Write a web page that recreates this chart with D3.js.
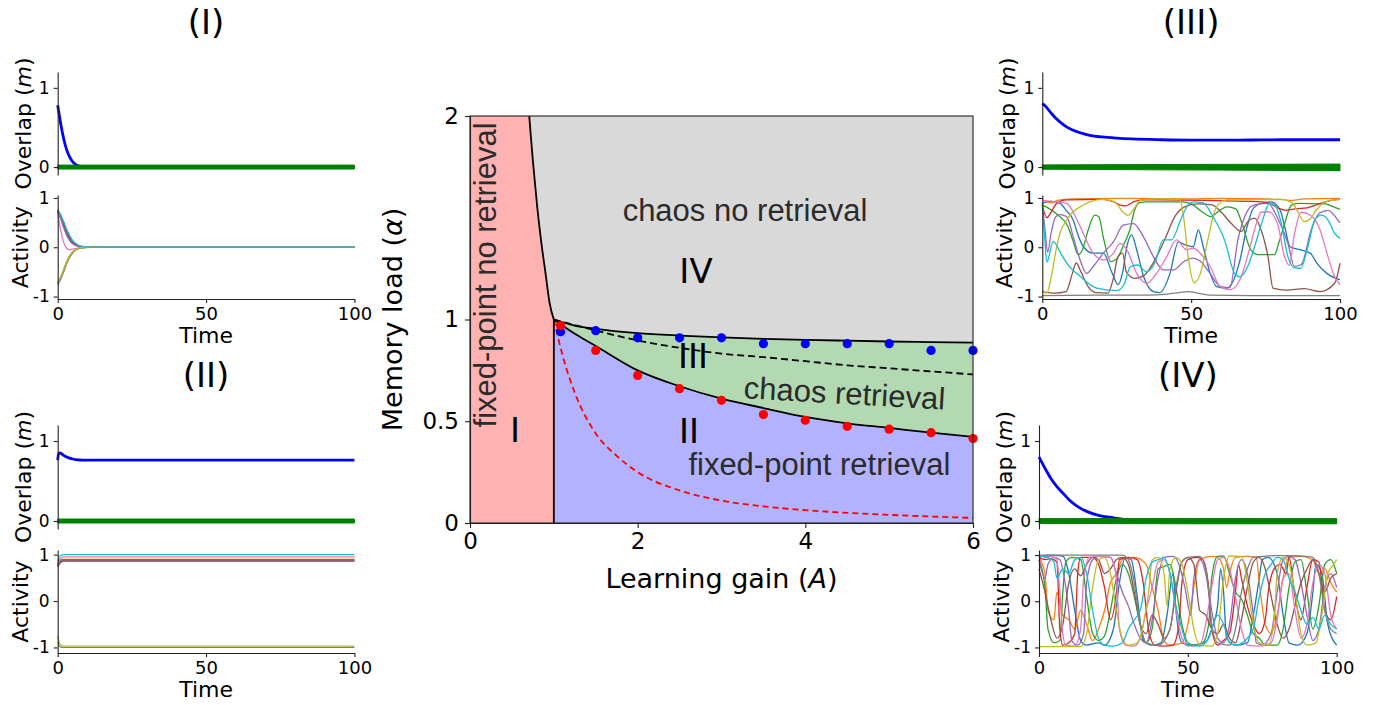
<!DOCTYPE html>
<html lang="en">
<head>
<meta charset="UTF-8">
<title>Phase diagram and dynamics</title>
<script src="https://d3js.org/d3.v7.min.js"></script>
<style>
  body { margin: 0; background: #fff; }
  svg text { font-family: "DejaVu Sans", sans-serif; fill: #000; }
  .note { font-family: "Liberation Sans", Arial, sans-serif; fill: #2b2b2b; }
</style>
</head>
<body>
<script>
// ---------- phase diagram data ----------
// boundary I / IV (fixed point no retrieval vs chaos)
const ivA     = [0.707, 0.72, 0.75, 0.8, 0.85, 0.9, 0.95, 1];
const ivAlpha = [2, 1.93, 1.78, 1.56, 1.38, 1.23, 1.08, 1];

// boundaries for A >= 1, all sampled on the same A grid
const bndA        = [1, 1.25, 1.5, 2, 2.5, 3, 3.5, 4, 4.5, 5, 5.5, 6];
const upperAlpha  = [1, 0.97, 0.954, 0.933, 0.921, 0.912, 0.905, 0.900, 0.896, 0.892, 0.889, 0.886];
const dashedAlpha = [1, 0.973, 0.946, 0.897, 0.861, 0.832, 0.815, 0.795, 0.775, 0.76, 0.745, 0.73];
const lowerAlpha  = [1, 0.93, 0.87, 0.75, 0.672, 0.611, 0.565, 0.521, 0.49, 0.467, 0.444, 0.423];

// red dashed curve
const redDashA     = [1, 1.1, 1.25, 1.5, 1.75, 2, 2.5, 3, 3.5, 4, 4.5, 5, 5.5, 6];
const redDashAlpha = [1, 0.83, 0.64, 0.44, 0.33, 0.25, 0.16, 0.11, 0.082, 0.063, 0.05, 0.04, 0.032, 0.025];

// simulation points
const dotA        = [1.08, 1.5, 2, 2.5, 3, 3.5, 4, 4.5, 5, 5.5, 6];
const blueDotAlpha = [0.94, 0.945, 0.91, 0.91, 0.91, 0.881, 0.881, 0.881, 0.881, 0.848, 0.848];
const redDotAlpha  = [0.97, 0.848, 0.725, 0.66, 0.603, 0.533, 0.505, 0.475, 0.461, 0.444, 0.415];

const notes = [
  { text: "fixed-point no retrieval", A: 0.31, a: 1.219, rot: -90, cls: "note", size: 31 },
  { text: "chaos no retrieval", A: 3.28, a: 1.484, rot: 0, cls: "note", size: 31 },
  { text: "chaos retrieval", A: 4.46, a: 0.585, rot: 3.3, cls: "note", size: 31 },
  { text: "fixed-point retrieval", A: 4.167, a: 0.236, rot: 0, cls: "note", size: 31 },
  { text: "I", A: 0.537, a: 0.398, rot: 0, cls: "roman", size: 34 },
  { text: "II", A: 2.612, a: 0.393, rot: 0, cls: "roman", size: 34 },
  { text: "III", A: 2.66, a: 0.762, rot: 0, cls: "roman", size: 34 },
  { text: "IV", A: 2.696, a: 1.179, rot: 0, cls: "roman", size: 34 }
];

// ---------- panel (I): decay to zero ----------
const p1OvT    = [0, 1, 2, 3, 4, 5, 6, 7, 8, 10, 12, 100];
const p1OvBlue = [0.78, 0.55, 0.36, 0.22, 0.13, 0.07, 0.035, 0.015, 0.005, 0, 0, 0];
const p1ActT   = [0, 1, 2, 3, 4, 5, 6, 7, 8, 10, 12, 15, 100];
const p1Act = [
  [0.76, 0.62, 0.45, 0.3, 0.18, 0.1, 0.05, 0.025, 0.01, 0, 0, 0, 0],
  [0.75, 0.65, 0.5, 0.35, 0.22, 0.13, 0.07, 0.04, 0.02, 0.005, 0, 0, 0],
  [0.74, 0.6, 0.42, 0.26, 0.15, 0.08, 0.04, 0.02, 0.01, 0, 0, 0, 0],
  [0.73, 0.64, 0.48, 0.32, 0.2, 0.11, 0.06, 0.03, 0.015, 0, 0, 0, 0],
  [0.72, 0.58, 0.4, 0.25, 0.14, 0.07, 0.035, 0.015, 0.005, 0, 0, 0, 0],
  [-0.74, -0.62, -0.46, -0.3, -0.18, -0.1, -0.05, -0.025, -0.01, 0, 0, 0, 0],
  [0.7, 0.35, 0.1, -0.02, -0.05, -0.04, -0.03, -0.02, -0.01, 0, 0, 0, 0],
  [-0.76, -0.65, -0.5, -0.34, -0.21, -0.12, -0.06, -0.03, -0.015, 0, 0, 0, 0],
  [-0.72, -0.6, -0.45, -0.3, -0.18, -0.1, -0.05, -0.02, -0.01, 0, 0, 0, 0],
  [0.77, 0.66, 0.52, 0.37, 0.24, 0.14, 0.08, 0.04, 0.02, 0.005, 0, 0, 0]
];
const p1BandT = [0, 100], p1BandLo = [-0.025, -0.025], p1BandHi = [0.025, 0.025];

// ---------- panel (II): fixed point retrieval ----------
const p2OvT    = [0, 0.3, 0.8, 2, 3, 4, 5, 6, 8, 10, 100];
const p2OvBlue = [0.76, 0.84, 0.85, 0.82, 0.8, 0.785, 0.775, 0.768, 0.762, 0.76, 0.76];
const p2ActT   = [0, 0.5, 1, 1.5, 2, 3, 5, 100];
const p2Act = [
  [0.78, 0.84, 0.87, 0.88, 0.88, 0.88, 0.88, 0.88],
  [0.76, 0.83, 0.88, 0.9, 0.9, 0.9, 0.9, 0.9],
  [0.8, 0.86, 0.88, 0.89, 0.89, 0.89, 0.89, 0.89],
  [0.75, 0.8, 0.84, 0.86, 0.87, 0.87, 0.87, 0.87],
  [0.77, 0.82, 0.85, 0.87, 0.87, 0.87, 0.87, 0.87],
  [0.74, 0.8, 0.83, 0.85, 0.86, 0.86, 0.86, 0.86],
  [0.8, 0.88, 0.92, 0.94, 0.95, 0.95, 0.95, 0.95],
  [-0.88, -0.96, -0.99, -1, -1, -1, -1, -1],
  [-0.75, -0.88, -0.94, -0.96, -0.97, -0.97, -0.97, -0.97],
  [0.86, 0.95, 0.98, 0.99, 1, 1, 1, 1]
];
const p2BandT = [0, 100], p2BandLo = [-0.025, -0.025], p2BandHi = [0.025, 0.025];

// ---------- panel (III): chaotic retrieval ----------
const p3OvT    = [0, 1, 3, 5, 8, 10, 13, 16, 20, 25, 30, 40, 50, 60, 70, 80, 90, 100];
const p3OvBlue = [0.8, 0.77, 0.68, 0.6, 0.51, 0.47, 0.43, 0.4, 0.38, 0.365, 0.355, 0.345, 0.34, 0.34, 0.342, 0.345, 0.345, 0.345];
const p3Blue = [[0,0.89],[3,0.93],[6,0.89],[8,0.75],[10.4,0.55],[12,0.25],[13.8,0.01],[17,-0.12],[20.5,-0.12],[23.3,-0.5],[25.5,-0.76],[27,-0.5],[28.4,0.01],[30,0.25],[31.7,-0.05],[34,-0.59],[37.3,-0.9],[39.5,-0.92],[42.9,-0.53],[45.7,0.11],[48,0.05],[50.7,0.01],[52.4,0.35],[54.1,0],[56.4,-0.53],[58.6,-0.8],[62,-0.83],[64,-0.7],[66.4,-0.26],[68.7,0.4],[71,0.8],[74,0.9],[77,0.92],[79.9,0.75],[81.5,0.4],[83.2,0.01],[86.6,-0.05],[90,-0.12],[92.2,-0.32],[95.6,-0.53],[100,-0.66]];
const p3Orange = [[0,0.97],[1.5,0.92],[3,0.9],[5,0.95],[10,0.98],[30,0.99],[50,0.98],[60,0.99],[75,0.98],[80,0.97],[84,0.95],[88,0.98],[100,0.99]];
const p3Green = [[0,0.86],[5.3,0.65],[8.6,0.42],[10.5,0.1],[12,-0.15],[13.5,-0.05],[15.4,0.35],[17.6,0.65],[19,0.62],[20.5,0.2],[23,-0.29],[24.8,-0.25],[27.7,0.1],[29.4,0.35],[31,0.75],[32.5,0.9],[35,0.92],[47,0.92],[50,0.88],[53,0.75],[56.7,0.62],[59,0.72],[62,0.82],[65,0.78],[67,0.5],[70,-0.05],[72.4,-0.15],[78,-0.15],[79.5,0.1],[81.4,0.48],[83.6,0.85],[86,0.89],[95,0.88],[97,0.84],[100,0.77]];
const p3Red = [[0,0.85],[1.5,0.6],[3,0.72],[5,0.9],[8,0.96],[20,0.97],[24,0.92],[26,0.86],[28,0.84],[31,0.93],[35,0.96],[55,0.95],[70,0.93],[76,0.9],[79,0.8],[82,0.75],[85,0.78],[89,0.8],[93,0.88],[97,0.95],[100,0.97]];
const p3Purple = [[0,0.85],[1,0.3],[1.8,-0.1],[3,0.3],[4.5,0.62],[6,0.66],[8.2,0.62],[10.4,0.21],[12.7,-0.26],[14.9,-0.53],[17.1,-0.39],[20.5,-0.12],[23.9,0.11],[27.2,0.45],[30.6,0.48],[34,0.21],[37.3,-0.19],[40.7,-0.46],[44.1,-0.46],[47.4,-0.3],[50.5,-0.22],[53,-0.28],[56,-0.5],[60,-0.8],[63,-0.82],[65.7,0.15],[68,0.62],[70,0.82],[73,0.88],[75.8,0.89],[79,0.6],[82.5,0.08],[84.7,-0.39],[87,-0.35],[90.3,0.35],[93,0.69],[96,0.75],[99.3,0.55],[100,0.5]];
const p3Brown = [[0,-0.9],[4,-0.93],[8,-0.9],[10,-0.55],[11.4,-0.32],[13,-0.5],[15.4,-0.8],[18,-0.92],[22,-0.93],[24,-0.6],[25.4,-0.19],[27,-0.12],[28.2,-0.5],[31,-0.63],[34,-0.58],[37.8,-0.26],[41.1,0.15],[44.5,0.62],[47.8,0.82],[52,0.88],[57,0.86],[60,0.72],[63.5,0.48],[66.8,0.32],[69,0.52],[71.3,0.59],[73.5,0.35],[75.8,-0.19],[77.5,-0.83],[82,-0.87],[88,-0.84],[93.3,-0.9],[98.2,-0.73],[100,-0.32]];
const p3Pink = [[0,0.95],[4.8,0.92],[8.2,0.89],[10.5,0.7],[12.7,0.42],[17.1,-0.12],[20.5,-0.26],[23.9,-0.12],[26.1,0.08],[28.4,-0.05],[31.7,-0.53],[35.1,-0.73],[38.4,-0.53],[41.8,-0.19],[45.1,0.15],[48.5,-0.05],[50.7,-0.02],[53,-0.12],[56.4,-0.39],[59.8,-0.8],[63.2,-0.86],[66.4,-0.66],[69.8,0.01],[72,0.5],[73.5,0.71],[76,0.72],[79,0.48],[81.4,-0.2],[83,-0.37],[84.7,0.27],[87,0.71],[90,0.65],[93,0.4],[96,-0.2],[98.2,-0.6],[100,-0.76]];
const p3Grey = [[0,-0.98],[20,-0.97],[35,-0.97],[42,-0.95],[46,-0.92],[49,-0.9],[52,-0.93],[56,-0.97],[70,-0.98],[100,-0.98]];
const p3Olive = [[0,-0.9],[1.5,-0.93],[3,-0.6],[4.8,0],[6,0.3],[8.2,0.55],[10,0.7],[12.7,0.82],[16,0.92],[20,0.97],[23,0.95],[25,0.88],[27,0.72],[28.8,0.65],[31,0.8],[33,0.95],[40,0.98],[46,0.97],[47.5,0.6],[49,-0.2],[51,-0.72],[53,-0.55],[55.6,0.15],[58,0.75],[59.5,0.89],[62,0.96],[80,0.97],[84,0.9],[86,0.7],[88,0.52],[90,0.58],[92,0.75],[95,0.92],[100,0.97]];
const p3Cyan = [[0,0.92],[0.8,0.2],[1.5,-0.3],[3.7,0.12],[6,-0.1],[8.2,-0.32],[12.7,-0.59],[18.3,-0.83],[25,-0.88],[27.5,-0.75],[29.5,-0.4],[32,-0.36],[35,-0.5],[37.8,-0.32],[40.6,0.15],[43.4,0.15],[46.7,0.59],[49,0.86],[51,0.92],[54,0.9],[57.3,0.62],[61.2,0.15],[64.6,-0.53],[66.3,-0.6],[69,-0.39],[71.3,0.01],[74,0.55],[76.3,0.89],[78,0.87],[80.3,0.48],[82.5,-0.19],[84.7,-0.42],[86.8,-0.43],[89.2,0.01],[91.5,0.55],[93.7,0.65],[96,0.55],[98.2,0.28],[100,0.18]];
const p3BandT  = [0, 20, 40, 60, 80, 100];
const p3BandLo = [-0.027, -0.03, -0.035, -0.038, -0.042, -0.046];
const p3BandHi = [0.027, 0.03, 0.032, 0.034, 0.036, 0.038];

// ---------- panel (IV): chaos, no retrieval ----------
const p4OvT    = [0, 2, 4, 6, 8, 10, 13, 16, 20, 25, 30, 40, 100];
const p4OvBlue = [0.8, 0.66, 0.53, 0.43, 0.35, 0.27, 0.18, 0.12, 0.07, 0.04, 0.015, 0, 0];
const p4Blue = [[0,0.95],[3,1],[8,0.98],[10,0.6],[12,-0.2],[14,-0.85],[16,-0.95],[20,-0.9],[22,-0.95],[25,-0.6],[27,0.4],[29,0.95],[31,0.9],[33,0.1],[35,-0.85],[38,-0.95],[41,-0.9],[43,-0.3],[45,0.6],[46,-0.2],[48,-0.9],[52,-0.95],[56,-0.88],[58,-0.6],[60,-0.1],[61,0.7],[62,0.2],[63,-0.8],[66,-0.95],[70,-0.9],[72,-0.3],[74,0.5],[75,0.9],[77,0.95],[80,0.6],[82,-0.3],[84,-0.9],[87,-0.95],[90,-0.7],[92,0.2],[93,0.8],[95,0.6],[97,-0.5],[100,-0.95]];
const p4Orange = [[0,0.95],[2,0.6],[3,-0.2],[5,-0.4],[6,0.2],[8,-0.3],[10,-0.4],[12,-0.6],[14,-0.2],[16,-0.5],[18,-0.85],[20,-0.6],[22,-0.2],[24,0.4],[26,0.6],[28,0.9],[32,0.95],[36,0.8],[38,0.3],[40,-0.2],[42,-0.85],[44,-0.95],[48,-0.9],[50,-0.5],[52,0.3],[54,0.9],[58,0.97],[60,0.95],[62,0.7],[63,0.3],[64,0.6],[66,0.95],[70,0.97],[73,0.95],[74,0.4],[76,-0.5],[78,-0.7],[80,-0.3],[82,0.5],[84,0.95],[88,0.97],[92,0.9],[94,0.6],[96,0.7],[98,0.4],[100,0.2]];
const p4Green = [[0,0.9],[2,0.3],[3,-0.6],[5,-0.9],[7,-0.85],[8,0.2],[9,0.85],[11,0.95],[14,0.9],[16,0.1],[18,-0.7],[20,-0.85],[22,-0.75],[24,-0.2],[26,0.5],[28,0.8],[30,0.6],[32,0.1],[34,-0.5],[36,-0.9],[38,-0.6],[40,0.7],[42,0.75],[44,0.8],[46,0.3],[48,-0.5],[50,-0.9],[52,-0.95],[55,-0.9],[57,-0.5],[58,0.5],[60,0.97],[62,0.98],[64,0.6],[66,0.2],[68,0.05],[70,-0.3],[72,-0.7],[74,-0.8],[76,-0.95],[80,-0.95],[82,-0.6],[84,0.3],[86,0.85],[88,0.9],[90,0.2],[92,-0.6],[94,-0.1],[96,0.8],[98,0.9],[100,0.6]];
const p4Red = [[0,0.95],[2,0.9],[4,0.92],[6,0.85],[7,-0.6],[8,-0.95],[10,-0.9],[12,-0.7],[13,0.6],[14,0.95],[18,0.95],[20,0.8],[22,0.3],[24,-0.4],[26,0.2],[27,0.9],[30,0.95],[33,0.9],[35,0.4],[37,-0.7],[39,-0.95],[42,-0.97],[45,-0.95],[47,-0.5],[48,0.4],[50,0.9],[53,0.95],[55,0.9],[57,0.3],[58,-0.6],[60,-0.95],[62,-0.85],[64,-0.7],[66,0.2],[67,0.8],[68,0.5],[70,-0.1],[72,-0.5],[74,-0.7],[76,-0.4],[77,0.2],[79,0.7],[81,0.8],[83,0.6],[84,0.95],[86,0.1],[88,-0.4],[90,0.3],[92,0.9],[94,0.85],[96,-0.2],[98,-0.4],[100,0.1]];
const p4Purple = [[0,0.9],[2,0.5],[3,0.8],[5,0.95],[7,0.9],[9,0.3],[10,-0.2],[11,-0.85],[13,-0.95],[15,-0.7],[16,0.4],[18,0.9],[20,0.97],[24,0.95],[26,0.6],[28,0.2],[30,-0.1],[32,-0.5],[34,-0.8],[36,-0.9],[38,-0.4],[40,0.5],[42,0.95],[45,0.97],[47,0.8],[49,0.3],[51,-0.3],[52,0.5],[54,0.9],[56,0.6],[58,-0.2],[60,-0.8],[62,-0.9],[64,-0.5],[66,0.5],[68,0.9],[70,0.6],[72,-0.3],[73,-0.9],[75,-0.95],[78,-0.7],[80,0.2],[82,0.9],[84,0.97],[86,0.9],[88,0.4],[90,-0.3],[92,-0.85],[94,-0.6],[96,0.3],[98,0.6],[100,0.3]];
const p4Brown = [[0,0.7],[2,0.2],[4,-0.4],[6,-0.8],[8,-0.5],[10,0.4],[12,0.7],[14,0.55],[16,0.8],[18,0.95],[20,0.9],[22,0.6],[24,0.7],[26,0.9],[28,0.95],[30,0.8],[32,0.2],[34,-0.5],[36,-0.7],[38,-0.3],[40,-0.5],[42,-0.8],[44,-0.6],[46,0.2],[48,0.85],[50,0.95],[52,0.8],[54,-0.2],[56,-0.3],[58,-0.6],[60,-0.7],[62,-0.5],[64,-0.8],[66,-0.9],[68,-0.4],[70,0.3],[72,0.85],[74,0.95],[76,0.7],[78,0.1],[80,-0.5],[82,-0.8],[84,-0.6],[86,-0.1],[88,0.4],[90,0.7],[92,0.9],[94,0.6],[96,0.2],[98,0.5],[100,0.6]];
const p4Pink = [[0,0.8],[2,0.95],[4,0.97],[6,0.9],[7,0.2],[8,-0.7],[9,-0.95],[12,-0.97],[14,-0.6],[15,0.5],[17,0.95],[20,0.97],[24,0.95],[26,0.5],[27,-0.6],[29,-0.95],[32,-0.97],[34,-0.8],[36,-0.2],[38,0.3],[40,0.85],[42,0.9],[44,0.6],[46,-0.2],[48,-0.8],[50,-0.97],[54,-0.95],[56,-0.5],[58,0.3],[60,0.9],[62,0.95],[64,0.7],[66,0.1],[68,-0.6],[70,-0.95],[74,-0.97],[78,-0.9],[80,-0.4],[82,0.5],[84,0.6],[86,-0.2],[88,-0.8],[90,-0.5],[92,0.4],[94,0.8],[96,0.6],[98,-0.3],[100,-0.6]];
const p4Grey = [[0,1],[28,1],[30,0.9],[32,0.4],[34,-0.5],[36,-0.9],[40,-0.95],[44,-0.6],[46,0.3],[48,0.85],[50,0.95],[54,0.97],[56,0.7],[57,0.2],[58,-0.5],[60,-0.9],[64,-0.95],[66,-0.6],[68,0.2],[70,0.7],[72,0.95],[75,0.97],[80,0.99],[85,0.99],[88,0.98],[92,0.95],[94,0.6],[96,-0.2],[98,-0.6],[100,-0.7]];
const p4Olive = [[0,-0.98],[14,-0.98],[16,-0.7],[18,0.3],[20,0.9],[22,0.95],[24,0.6],[26,-0.2],[28,-0.8],[30,-0.95],[33,-0.9],[35,-0.5],[37,0.3],[38,0.9],[40,0.95],[42,0.6],[43,-0.1],[44,0.7],[46,0.95],[48,0.8],[50,0.2],[52,-0.6],[54,-0.95],[58,-0.97],[60,-0.7],[62,0.5],[64,0.98],[68,0.97],[70,0.4],[72,-0.5],[74,-0.9],[77,-0.95],[79,-0.4],[80,0.6],[82,0.95],[84,0.8],[86,0.2],[88,-0.7],[90,-0.95],[93,-0.9],[95,-0.3],[97,0.6],[99,0.8],[100,0.9]];
const p4Cyan = [[0,0.98],[3,0.95],[5,0.85],[6,0.5],[8,0.7],[10,0.6],[12,0.9],[14,0.95],[16,0.6],[18,-0.2],[20,-0.8],[22,-0.95],[25,-0.97],[28,-0.9],[30,-0.6],[32,-0.4],[34,-0.2],[36,0.5],[38,0.85],[40,0.9],[42,0.95],[44,0.6],[46,-0.1],[48,-0.6],[50,-0.95],[54,-0.97],[57,-0.8],[60,-0.3],[62,-0.5],[64,-0.9],[66,-0.95],[70,-0.8],[72,-0.6],[74,0.1],[76,0.6],[78,0.8],[80,0.95],[82,0.9],[84,0.5],[86,0.2],[88,-0.2],[90,-0.5],[92,-0.35],[94,-0.6],[96,-0.3],[98,-0.5],[100,-0.6]];
const p4BandT  = [0, 25, 50, 75, 100];
const p4BandLo = [-0.03, -0.032, -0.035, -0.035, -0.035];
const p4BandHi = [0.03, 0.03, 0.032, 0.03, 0.03];

const timeTicks = [0, 50, 100];
const tab10 = d3.schemeCategory10;

// ---------- drawing ----------
const svg = d3.select("body").append("svg")
    .attr("width", 1380).attr("height", 705);

const zip = (xs, ys) => xs.map((x, i) => [x, ys[i]]);

function styleAxis(g, size) {
    g.attr("font-size", size).attr("font-family", "DejaVu Sans, sans-serif");
    g.selectAll(".domain").attr("stroke", "#222").attr("stroke-width", 1.1);
    g.selectAll(".tick line").attr("stroke", "#222").attr("stroke-width", 1.1);
    g.selectAll(".tick text").attr("fill", "#000");
}

function smallPanel(p) {
    const g = svg.append("g");
    const x = d3.scaleLinear().domain([0, 100]).range([p.x0, p.x1]);
    const yo = d3.scaleLinear().domain([-0.1, 1.2]).range([p.ovBot, p.ovTop]);
    const ya = d3.scaleLinear().domain(p.actDom).range([p.acBot, p.acTop]);

    g.append("text").attr("x", (p.x0 + p.x1) / 2).attr("y", p.ovTop - 38)
        .attr("text-anchor", "middle").attr("font-size", 34).text(p.title);

    // overlap
    g.append("path")
        .attr("d", d3.line().x(d => x(d[0])).y(d => yo(d[1])).curve(d3.curveMonotoneX)(zip(p.ovT, p.ovBlue)))
        .attr("fill", "none").attr("stroke", "#0000ff").attr("stroke-width", 2.8);
    g.append("path")
        .attr("d", d3.area().x(d => x(d[0])).y0(d => yo(d[1])).y1(d => yo(d[2]))
            (p.bandT.map((t, i) => [t, p.bandLo[i], p.bandHi[i]])))
        .attr("fill", "#008000").attr("stroke", "#008000").attr("stroke-width", 1);

    const ay = g.append("g").attr("transform", `translate(${p.x0},0)`)
        .call(d3.axisLeft(yo).tickValues([0, 1]).tickFormat(d => String(d)).tickSize(4).tickPadding(4).tickSizeOuter(0));
    styleAxis(ay, 17);

    const ol = g.append("text")
        .attr("transform", `translate(${p.x0 - 27},${(p.ovTop + p.ovBot) / 2}) rotate(-90)`)
        .attr("text-anchor", "middle").attr("font-size", 22);
    ol.append("tspan").text("Overlap (");
    ol.append("tspan").attr("font-style", "italic").text("m");
    ol.append("tspan").text(")");

    // activity
    const line = d3.line().x(d => x(d[0])).y(d => ya(d[1])).curve(d3.curveMonotoneX);
    p.act.forEach((s, i) => {
        g.append("path").attr("d", line(s))
            .attr("fill", "none").attr("stroke", tab10[i]).attr("stroke-width", 1.3);
    });

    const ay2 = g.append("g").attr("transform", `translate(${p.x0},0)`)
        .call(d3.axisLeft(ya).tickValues([-1, 0, 1]).tickFormat(d => String(d)).tickSize(4).tickPadding(4).tickSizeOuter(0));
    styleAxis(ay2, 17);
    const ax = g.append("g").attr("transform", `translate(0,${p.acBot})`)
        .call(d3.axisBottom(x).tickValues(timeTicks).tickSize(4).tickPadding(4).tickSizeOuter(0));
    styleAxis(ax, 18);

    g.append("text")
        .attr("transform", `translate(${p.x0 - 30},${(p.acTop + p.acBot) / 2}) rotate(-90)`)
        .attr("text-anchor", "middle").attr("font-size", 22).text("Activity");
    g.append("text").attr("x", (p.x0 + p.x1) / 2).attr("y", p.acBot + 44)
        .attr("text-anchor", "middle").attr("font-size", 22).text("Time");
}

const rowTop = { ovTop: 72, ovBot: 175, acTop: 195, acBot: 299 };
const rowBot = { ovTop: 425, ovBot: 529, acTop: 550, acBot: 653 };

smallPanel(Object.assign({ title: "(I)", x0: 57.7, x1: 354.4, actDom: [-1.05, 1.06],
    ovT: p1OvT, ovBlue: p1OvBlue, bandT: p1BandT, bandLo: p1BandLo, bandHi: p1BandHi,
    act: p1Act.map(v => zip(p1ActT, v)) }, rowTop));
smallPanel(Object.assign({ title: "(II)", x0: 57.7, x1: 354.4, actDom: [-1.12, 1.1],
    ovT: p2OvT, ovBlue: p2OvBlue, bandT: p2BandT, bandLo: p2BandLo, bandHi: p2BandHi,
    act: p2Act.map(v => zip(p2ActT, v)) }, rowBot));
smallPanel(Object.assign({ title: "(III)", x0: 1042.3, x1: 1340, actDom: [-1.05, 1.06],
    ovT: p3OvT, ovBlue: p3OvBlue, bandT: p3BandT, bandLo: p3BandLo, bandHi: p3BandHi,
    act: [p3Blue, p3Orange, p3Green, p3Red, p3Purple, p3Brown, p3Pink, p3Grey, p3Olive, p3Cyan] }, rowTop));
smallPanel(Object.assign({ title: "(IV)", x0: 1039, x1: 1336.7, actDom: [-1.12, 1.11],
    ovT: p4OvT, ovBlue: p4OvBlue, bandT: p4BandT, bandLo: p4BandLo, bandHi: p4BandHi,
    act: [p4Blue, p4Orange, p4Green, p4Red, p4Purple, p4Brown, p4Pink, p4Grey, p4Olive, p4Cyan] }, rowBot));

// ---------- central phase diagram ----------
const cx = d3.scaleLinear().domain([0, 6]).range([470, 973]);
const cy = d3.scaleLinear().domain([0, 2]).range([523, 116]);
const pg = svg.append("g");

const area = d3.area().x(d => cx(d[0])).y0(d => cy(d[1])).y1(d => cy(d[2])).curve(d3.curveMonotoneX);
const curve = d3.line().x(d => cx(d[0])).y(d => cy(d[1])).curve(d3.curveMonotoneX);

// region I
pg.append("rect").attr("x", cx(0)).attr("y", cy(2))
    .attr("width", cx(1) - cx(0)).attr("height", cy(0) - cy(2)).attr("fill", "#ffb2b2");
// region IV
pg.append("path").attr("d", area(ivA.map((a, i) => [a, ivAlpha[i], 2]))).attr("fill", "#d9d9d9");
pg.append("path").attr("d", area(bndA.map((a, i) => [a, upperAlpha[i], 2]))).attr("fill", "#d9d9d9");
// region III
pg.append("path").attr("d", area(bndA.map((a, i) => [a, lowerAlpha[i], upperAlpha[i]]))).attr("fill", "#b2d9b2");
// region II
pg.append("path").attr("d", area(bndA.map((a, i) => [a, 0, lowerAlpha[i]]))).attr("fill", "#b2b2ff");

// boundaries
pg.append("path").attr("d", curve(zip(redDashA, redDashAlpha)))
    .attr("fill", "none").attr("stroke", "#ff0000").attr("stroke-width", 1.8).attr("stroke-dasharray", "6,4");
pg.append("path").attr("d", curve(zip(bndA, dashedAlpha)))
    .attr("fill", "none").attr("stroke", "#000").attr("stroke-width", 1.8).attr("stroke-dasharray", "7,4");
[zip(ivA, ivAlpha), zip(bndA, upperAlpha), zip(bndA, lowerAlpha)].forEach(s => {
    pg.append("path").attr("d", curve(s)).attr("fill", "none").attr("stroke", "#000").attr("stroke-width", 1.8);
});
pg.append("line").attr("x1", cx(1)).attr("x2", cx(1)).attr("y1", cy(0)).attr("y2", cy(1))
    .attr("stroke", "#000").attr("stroke-width", 1.8);

// simulation dots
pg.selectAll(".bdot").data(zip(dotA, blueDotAlpha)).enter().append("circle")
    .attr("cx", d => cx(d[0])).attr("cy", d => cy(d[1])).attr("r", 4.6).attr("fill", "#0000ff");
pg.selectAll(".rdot").data(zip(dotA, redDotAlpha)).enter().append("circle")
    .attr("cx", d => cx(d[0])).attr("cy", d => cy(d[1])).attr("r", 4.6).attr("fill", "#ff0000");

// labels inside
notes.forEach(n => {
    const t = pg.append("text")
        .attr("transform", `translate(${cx(n.A)},${cy(n.a)}) rotate(${n.rot})`)
        .attr("text-anchor", "middle").attr("font-size", n.size).text(n.text);
    if (n.cls === "note") t.attr("class", "note");
});

// frame and axes
pg.append("rect").attr("x", cx(0)).attr("y", cy(2)).attr("width", cx(6) - cx(0)).attr("height", cy(0) - cy(2))
    .attr("fill", "none").attr("stroke", "#222").attr("stroke-width", 1.1);
const cya = pg.append("g").attr("transform", `translate(${cx(0)},0)`)
    .call(d3.axisLeft(cy).tickValues([0, 0.5, 1, 2]).tickFormat(d => String(d)).tickSize(5).tickPadding(6).tickSizeOuter(0));
styleAxis(cya, 23);
const cxa = pg.append("g").attr("transform", `translate(0,${cy(0)})`)
    .call(d3.axisBottom(cx).tickValues([0, 2, 4, 6]).tickFormat(d => String(d)).tickSize(5).tickPadding(5).tickSizeOuter(0));
styleAxis(cxa, 23);

const xl = pg.append("text").attr("x", (cx(0) + cx(6)) / 2).attr("y", 588)
    .attr("text-anchor", "middle").attr("font-size", 27);
xl.append("tspan").text("Learning gain (");
xl.append("tspan").attr("font-style", "italic").text("A");
xl.append("tspan").text(")");

const yl = pg.append("text")
    .attr("transform", `translate(402,${(cy(0) + cy(2)) / 2}) rotate(-90)`)
    .attr("text-anchor", "middle").attr("font-size", 27);
yl.append("tspan").text("Memory load (");
yl.append("tspan").attr("font-style", "italic").text("α");
yl.append("tspan").text(")");
</script>
</body>
</html>
